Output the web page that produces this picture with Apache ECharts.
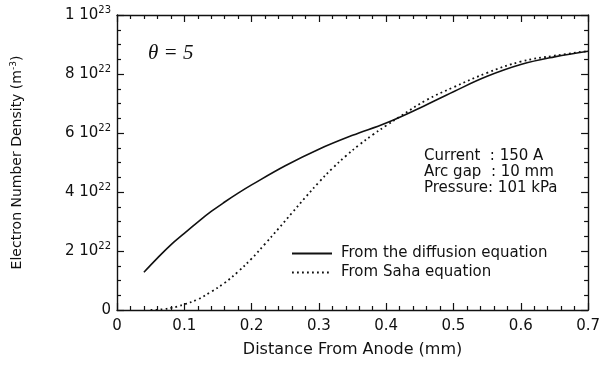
<!DOCTYPE html>
<html>
<head>
<meta charset="utf-8">
<script src="https://cdn.jsdelivr.net/npm/echarts@6/dist/echarts.min.js"></script>
<style>
  html, body { margin: 0; padding: 0; background: #fff; }
  #main { width: 603px; height: 365px; }
</style>
</head>
<body>
<div id="main"></div>
<script>
// electron density in units of 1e22 m^-3
var diffX = [0.04, 0.06, 0.08, 0.10, 0.12, 0.14, 0.16, 0.18, 0.20, 0.25, 0.30, 0.35, 0.40, 0.45, 0.50, 0.55, 0.60, 0.65, 0.70];
var diffY = [1.28, 1.76, 2.21, 2.60, 2.98, 3.34, 3.66, 3.96, 4.24, 4.89, 5.45, 5.92, 6.34, 6.85, 7.40, 7.92, 8.32, 8.58, 8.77];

var sahaX = [0.05, 0.06, 0.07, 0.08, 0.09, 0.10, 0.12, 0.14, 0.16, 0.18, 0.20, 0.22, 0.24, 0.26, 0.28, 0.30, 0.32, 0.34, 0.36, 0.38, 0.40, 0.42, 0.46, 0.50, 0.55, 0.60, 0.65, 0.70];
var sahaY = [0.00, 0.01, 0.03, 0.07, 0.12, 0.19, 0.36, 0.62, 0.92, 1.30, 1.74, 2.24, 2.76, 3.29, 3.82, 4.33, 4.80, 5.22, 5.60, 5.94, 6.25, 6.55, 7.12, 7.55, 8.04, 8.42, 8.62, 8.78];

var yTickLabels = {0: '0', 2: '2 10{sup|22}', 4: '4 10{sup|22}', 6: '6 10{sup|22}', 8: '8 10{sup|22}', 10: '1 10{sup|23}'};

function pairs(xs, ys) {
    return xs.map(function (x, i) { return [x, ys[i]]; });
}

var font = '"DejaVu Sans", sans-serif';
var black = '#111';
var supStyle = { fontSize: 10, fontFamily: font, color: black, padding: [0, 0, 9, 0] };

var chart = echarts.init(document.getElementById('main'));

function xAx(pos, show) {
    return {
        type: 'value', position: pos, min: 0, max: 0.7, interval: 0.1,
        axisLine: { show: true, onZero: false, lineStyle: { color: black, width: 1.4 } },
        axisTick: { show: true, inside: true, length: 7, lineStyle: { color: black, width: 1.2 } },
        minorTick: { show: true, splitNumber: 5, length: 4, lineStyle: { color: black, width: 1.2 } },
        splitLine: { show: false },
        axisLabel: { show: show, color: black, fontSize: 15, fontFamily: font, margin: 9 }
    };
}
function yAx(pos, show) {
    return {
        type: 'value', position: pos, min: 0, max: 10, interval: 2,
        axisLine: { show: true, onZero: false, lineStyle: { color: black, width: 1.4 } },
        axisTick: { show: true, inside: true, length: 7, lineStyle: { color: black, width: 1.2 } },
        minorTick: { show: true, splitNumber: 4, length: 4, lineStyle: { color: black, width: 1.2 } },
        splitLine: { show: false },
        axisLabel: {
            show: show, color: black, fontSize: 15, fontFamily: font, margin: 6,
            formatter: function (v) { return yTickLabels[v] || ''; },
            rich: { sup: supStyle }
        }
    };
}

var xMain = xAx('bottom', true);
xMain.name = 'Distance From Anode (mm)';
xMain.nameLocation = 'middle';
xMain.nameGap = 32;
xMain.nameTextStyle = { color: black, fontSize: 16, fontFamily: font };

var yMain = yAx('left', true);
yMain.name = 'Electron Number Density (m{sup|-3})';
yMain.nameLocation = 'middle';
yMain.nameGap = 91;
yMain.nameTextStyle = { color: black, fontSize: 14, fontFamily: font,
    rich: { sup: { fontSize: 9, fontFamily: font, color: black, padding: [0, 0, 8, 0] } } };

chart.setOption({
    animation: false,
    backgroundColor: '#fff',
    grid: { left: 117, right: 10, top: 15, bottom: 55 },
    xAxis: [xMain, xAx('top', false)],
    yAxis: [yMain, yAx('right', false)],
    legend: {
        left: 291, top: 246, orient: 'vertical', itemGap: 4, padding: 0,
        itemWidth: 40, itemHeight: 14,
        itemStyle: { opacity: 0 },
        textStyle: { color: black, fontSize: 15, fontFamily: font, padding: [0, 0, 0, 4] },
        data: ['From the diffusion equation', 'From Saha equation']
    },
    graphic: [
        { type: 'text', left: 148, top: 43,
          style: { text: 'θ = 5', fill: black, font: 'italic 21px "Liberation Serif", serif' } },
        { type: 'text', left: 424, top: 148,
          style: { text: 'Current  : 150 A\nArc gap  : 10 mm\nPressure: 101 kPa', fill: black,
                   font: '15px "DejaVu Sans", sans-serif', lineHeight: 16 } }
    ],
    series: [
        { name: 'From the diffusion equation', type: 'line', smooth: 0.4, symbol: 'none',
          xAxisIndex: 0, yAxisIndex: 0,
          lineStyle: { color: black, width: 1.6, type: 'solid' },
          itemStyle: { color: black },
          data: pairs(diffX, diffY) },
        { name: 'From Saha equation', type: 'line', smooth: 0.4, symbol: 'none',
          xAxisIndex: 0, yAxisIndex: 0,
          lineStyle: { color: black, width: 1.8, type: [1.8, 3.2] },
          itemStyle: { color: black },
          data: pairs(sahaX, sahaY) }
    ]
});
</script>
</body>
</html>
